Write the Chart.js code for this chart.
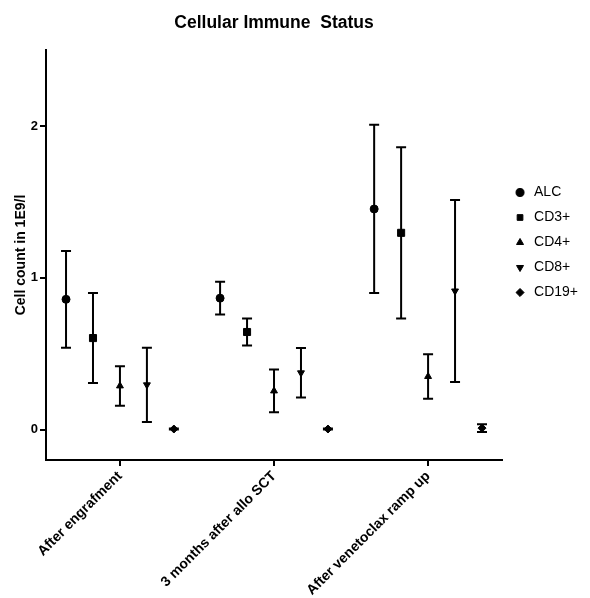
<!DOCTYPE html>
<html>
<head>
<meta charset="utf-8">
<script src="https://cdn.jsdelivr.net/npm/chart.js@4.4.1/dist/chart.umd.min.js"></script>
<style>
  html, body { margin: 0; padding: 0; background: #fff; }
</style>
</head>
<body>
<canvas id="myChart" width="590" height="598"></canvas>
<script>
var categories = ['After engrafment', '3 months after allo SCT', 'After venetoclax ramp up'];
var seriesNames = ['ALC', 'CD3+', 'CD4+', 'CD8+', 'CD19+'];

// mean and SD per time point, in 1E9/l
var alcMean  = [0.858, 0.866, 1.453];
var alcSD    = [0.318, 0.108, 0.554];
var cd3Mean  = [0.603, 0.643, 1.296];
var cd3SD    = [0.296, 0.089, 0.564];
var cd4Mean  = [0.288, 0.255, 0.350];
var cd4SD    = [0.130, 0.141, 0.146];
var cd8Mean  = [0.295, 0.374, 0.913];
var cd8SD    = [0.245, 0.163, 0.599];
var cd19Mean = [0.004, 0.004, 0.010];
var cd19SD   = [0.003, 0.003, 0.025];

var yTicks = [0, 1, 2];

var means = [alcMean, cd3Mean, cd4Mean, cd8Mean, cd19Mean];
var sds = [alcSD, cd3SD, cd4SD, cd8SD, cd19SD];

// look of each series
var shapes = ['circle', 'rect', 'triangle', 'triangle', 'rectRot'];
var turns = [0, 0, 0, 180, 0];
var sizes = [4, 5, 4, 4, 4];
var dodge = 0.175;
var font = '"Liberation Sans", Arial, sans-serif';

var datasets = seriesNames.map(function(name, s) {
  return {
    label: name,
    data: means[s].map(function(v, g) {
      return { x: g + 1 + (s - 2) * dodge, y: v };
    }),
    sd: sds[s],
    pointStyle: shapes[s],
    pointRotation: turns[s],
    pointRadius: sizes[s],
    pointBackgroundColor: '#000',
    pointBorderColor: '#000',
    pointBorderWidth: 1,
    showLine: false,
    clip: false
  };
});

var errorBars = {
  id: 'errorBars',
  beforeDatasetsDraw: function(chart) {
    var ctx = chart.ctx, y = chart.scales.y;
    ctx.save();
    ctx.strokeStyle = '#000';
    ctx.lineWidth = 2;
    chart.data.datasets.forEach(function(ds, d) {
      var meta = chart.getDatasetMeta(d);
      meta.data.forEach(function(pt, i) {
        var v = ds.data[i].y, e = ds.sd[i];
        var top = y.getPixelForValue(v + e), bot = y.getPixelForValue(v - e);
        ctx.beginPath();
        ctx.moveTo(pt.x, top); ctx.lineTo(pt.x, bot);
        ctx.moveTo(pt.x - 5, top); ctx.lineTo(pt.x + 5, top);
        ctx.moveTo(pt.x - 5, bot); ctx.lineTo(pt.x + 5, bot);
        ctx.stroke();
      });
    });
    ctx.restore();
  }
};

var ctx = document.getElementById('myChart').getContext('2d');
var myChart = new Chart(ctx, {
  type: 'scatter',
  data: { datasets: datasets },
  plugins: [errorBars],
  options: {
    responsive: false,
    animation: false,
    layout: { padding: { left: 0, right: 2, top: 0, bottom: 0 } },
    scales: {
      x: {
        type: 'linear',
        min: 0.52,
        max: 3.48,
        afterBuildTicks: function(s) {
          s.ticks = categories.map(function(c, i) { return { value: i + 1 }; });
        },
        afterFit: function(s) { s.height = 138; },
        grid: { display: true, drawOnChartArea: false, color: '#000', lineWidth: 2, tickLength: 6 },
        border: { display: true, color: '#000', width: 2 },
        ticks: {
          color: '#000',
          maxRotation: 45,
          minRotation: 45,
          padding: 2,
          font: { family: font, size: 14, weight: 'bold' },
          callback: function(v) { return categories[v - 1]; }
        }
      },
      y: {
        min: -0.2,
        max: 2.5,
        afterBuildTicks: function(s) {
          s.ticks = yTicks.map(function(v) { return { value: v }; });
        },
        afterFit: function(s) { s.width = 46; },
        grid: { display: true, drawOnChartArea: false, color: '#000', lineWidth: 2, tickLength: 6 },
        border: { display: true, color: '#000', width: 2 },
        ticks: {
          color: '#000',
          padding: 2,
          font: { family: font, size: 13, weight: 'bold' }
        },
        title: {
          display: true,
          text: 'Cell count in 1E9/l',
          color: '#000',
          padding: { top: 13, bottom: 0 },
          font: { family: font, size: 14, weight: 'bold' }
        }
      }
    },
    plugins: {
      title: {
        display: true,
        text: 'Cellular Immune  Status',
        color: '#000',
        fullSize: false,
        padding: { top: 13, bottom: 16 },
        font: { family: font, size: 17.5, weight: 'bold' }
      },
      legend: {
        position: 'right',
        align: 'start',
        // empty legend title used only as top spacing
        title: {
          display: true,
          text: ' ',
          padding: { top: 162.5, bottom: 0 },
          font: { family: font, size: 10 }
        },
        labels: {
          usePointStyle: true,
          boxHeight: 5.7,
          padding: 11,
          color: '#000',
          font: { family: font, size: 14 }
        }
      },
      tooltip: { enabled: false }
    }
  }
});
</script>
</body>
</html>
